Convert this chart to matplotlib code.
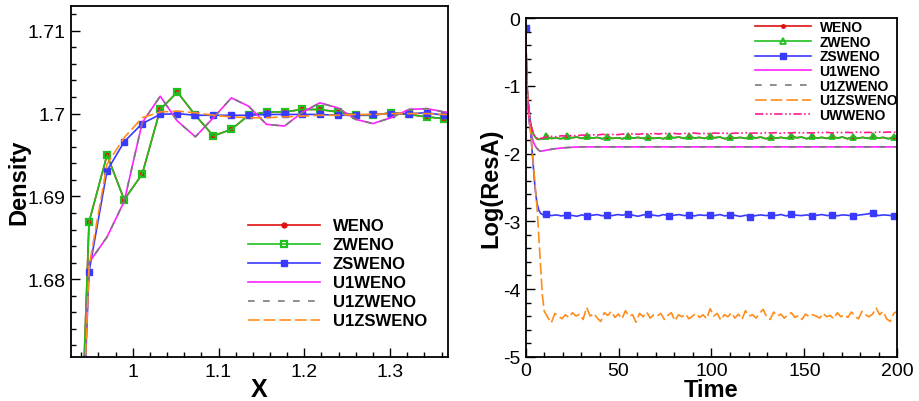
import numpy as np
import matplotlib
matplotlib.use('Agg')
import matplotlib.pyplot as plt
from matplotlib.ticker import MultipleLocator, FuncFormatter

plt.rcParams['font.family'] = ['Liberation Sans', 'DejaVu Sans']
plt.rcParams['axes.unicode_minus'] = False

# ---------------- Left panel data (Density vs X) ----------------
x_pts = [0.928, 0.949, 0.970, 0.990, 1.011, 1.032, 1.052, 1.073, 1.094, 1.115, 1.135,
         1.156, 1.177, 1.197, 1.218, 1.239, 1.260, 1.280, 1.301, 1.322, 1.343, 1.363, 1.384]
rho_weno = [1.625, 1.6869, 1.6950, 1.6896, 1.6927, 1.7005, 1.7026, 1.6998, 1.6973, 1.6981, 1.6998,
            1.7002, 1.7002, 1.7005, 1.7005, 1.7002, 1.6998, 1.6998, 1.7001, 1.6999, 1.6996, 1.6994, 1.6993]
rho_zweno = [1.625, 1.6869, 1.6950, 1.6896, 1.6927, 1.7005, 1.7026, 1.6998, 1.6973, 1.6981, 1.6998,
             1.7002, 1.7002, 1.7005, 1.7005, 1.7002, 1.6998, 1.6998, 1.7001, 1.6999, 1.6996, 1.6994, 1.6993]
rho_zsweno = [1.625, 1.6809, 1.6931, 1.6966, 1.6988, 1.6999, 1.7000, 1.6998, 1.6998, 1.6998, 1.6998,
              1.6999, 1.6999, 1.6999, 1.6999, 1.6998, 1.6998, 1.6999, 1.7000, 1.7000, 1.7001, 1.6998, 1.6999]
rho_u1weno = [1.625, 1.6820, 1.6851, 1.6894, 1.6989, 1.7021, 1.6991, 1.6972, 1.6995, 1.7019, 1.7009,
              1.6987, 1.6985, 1.7001, 1.7013, 1.7007, 1.6993, 1.6988, 1.6995, 1.7005, 1.7006, 1.7002, 1.7000]
rho_u1zweno = [1.625, 1.6820, 1.6851, 1.6894, 1.6989, 1.7021, 1.6991, 1.6972, 1.6995, 1.7019, 1.7009,
               1.6987, 1.6985, 1.7001, 1.7013, 1.7007, 1.6993, 1.6988, 1.6995, 1.7005, 1.7006, 1.7002, 1.7000]
rho_u1zsweno = [1.625, 1.6815, 1.6939, 1.6971, 1.6995, 1.7002, 1.7003, 1.7001, 1.6998, 1.6996, 1.6995,
                1.6995, 1.6996, 1.6997, 1.6998, 1.6998, 1.6999, 1.6999, 1.7000, 1.7000, 1.7000, 1.6999, 1.6999]

# ---------------- Right panel data (Log(ResA) vs Time) ----------------
t_early = [0, 0.5, 1, 2, 3, 4, 5, 6, 7, 8, 9, 10]
t_plateau = list(np.round(11 + 2.75 * np.arange(69), 2)) + [200]
time = t_early + t_plateau

res_zweno = [-0.15, -0.85, -1.15, -1.45, -1.60, -1.70, -1.75, -1.78, -1.79, -1.785, -1.78, -1.775,
             -1.745, -1.775, -1.77, -1.78, -1.74, -1.765, -1.755, -1.775, -1.745, -1.77, -1.76, -1.78,
             -1.75, -1.775, -1.765, -1.78, -1.745, -1.77, -1.76, -1.775, -1.75, -1.775, -1.765, -1.78,
             -1.745, -1.765, -1.755, -1.775, -1.74, -1.77, -1.76, -1.775, -1.745, -1.765, -1.755, -1.78,
             -1.75, -1.77, -1.76, -1.775, -1.745, -1.77, -1.755, -1.78, -1.75, -1.77, -1.76, -1.775,
             -1.74, -1.765, -1.755, -1.78, -1.745, -1.77, -1.76, -1.775, -1.745, -1.77, -1.755, -1.78,
             -1.75, -1.77, -1.76, -1.775, -1.745, -1.77, -1.76, -1.78, -1.75, -1.775]
res_weno = list(res_zweno)
res_zsweno = [-0.15, -0.80, -1.15, -1.40, -1.80, -2.15, -2.50, -2.72, -2.83, -2.88, -2.90, -2.905,
              -2.892, -2.915, -2.905, -2.92, -2.906, -2.912, -2.925, -2.905, -2.921, -2.91, -2.90, -2.918,
              -2.906, -2.915, -2.90, -2.91, -2.886, -2.91, -2.925, -2.905, -2.896, -2.91, -2.92, -2.90,
              -2.921, -2.91, -2.90, -2.915, -2.906, -2.92, -2.905, -2.912, -2.906, -2.915, -2.90, -2.92,
              -2.906, -2.912, -2.928, -2.91, -2.935, -2.915, -2.905, -2.915, -2.906, -2.912, -2.90, -2.92,
              -2.892, -2.91, -2.915, -2.905, -2.921, -2.91, -2.90, -2.915, -2.906, -2.918, -2.905, -2.91,
              -2.921, -2.91, -2.90, -2.89, -2.872, -2.915, -2.905, -2.91, -2.921, -2.915]
res_uwweno = [-0.15, -0.85, -1.15, -1.45, -1.60, -1.70, -1.75, -1.77, -1.78, -1.775, -1.77, -1.76,
              -1.755, -1.745, -1.75, -1.735, -1.74, -1.73, -1.735, -1.725, -1.73, -1.72, -1.725, -1.715,
              -1.72, -1.715, -1.72, -1.71, -1.715, -1.705, -1.715, -1.705, -1.71, -1.70, -1.71, -1.70,
              -1.705, -1.70, -1.71, -1.70, -1.705, -1.695, -1.705, -1.70, -1.705, -1.695, -1.70, -1.695,
              -1.705, -1.695, -1.70, -1.69, -1.70, -1.695, -1.70, -1.69, -1.695, -1.69, -1.70, -1.69,
              -1.695, -1.685, -1.695, -1.69, -1.695, -1.685, -1.69, -1.685, -1.695, -1.685, -1.69, -1.685,
              -1.69, -1.68, -1.69, -1.685, -1.69, -1.68, -1.685, -1.68, -1.685, -1.68]

t_u1 = [0, 0.5, 1, 2, 3, 4, 5, 6, 7, 8, 10, 15, 20, 25, 30, 40, 60, 100, 150, 200]
res_u1weno = [-0.15, -0.90, -1.25, -1.55, -1.72, -1.82, -1.88, -1.92, -1.95, -1.965, -1.955, -1.93,
              -1.915, -1.905, -1.90, -1.90, -1.90, -1.90, -1.90, -1.90]
res_u1zweno = [-0.15, -0.90, -1.25, -1.55, -1.72, -1.82, -1.88, -1.92, -1.95, -1.965, -1.955, -1.93,
               -1.915, -1.905, -1.90, -1.90, -1.90, -1.90, -1.90, -1.90]

t_u1zs_early = [0, 0.5, 1, 2, 3, 4, 5, 6, 7, 8, 9]
res_u1zs_early = [-0.15, -0.80, -1.15, -1.45, -1.80, -2.10, -2.45, -2.75, -3.20, -3.65, -4.10]
res_u1zs_plateau = [-4.33, -4.42, -4.50, -4.36, -4.40, -4.44, -4.38, -4.42, -4.35, -4.40,
                    -4.37, -4.45, -4.27, -4.40, -4.36, -4.43, -4.48, -4.35, -4.39, -4.33,
                    -4.42, -4.37, -4.44, -4.32, -4.40, -4.38, -4.49, -4.36, -4.41, -4.34,
                    -4.43, -4.38, -4.40, -4.36, -4.45, -4.39, -4.35, -4.47, -4.38, -4.41,
                    -4.37, -4.44, -4.40, -4.36, -4.42, -4.38, -4.44, -4.29, -4.40, -4.36,
                    -4.46, -4.38, -4.41, -4.35, -4.43, -4.37, -4.45, -4.32, -4.40, -4.38,
                    -4.43, -4.36, -4.30, -4.41, -4.45, -4.34, -4.40, -4.37, -4.43, -4.38,
                    -4.35, -4.42, -4.39, -4.45, -4.37, -4.41, -4.38, -4.40, -4.43, -4.36,
                    -4.41, -4.39, -4.44, -4.35, -4.41, -4.38, -4.42, -4.34, -4.40, -4.44,
                    -4.33, -4.38, -4.41, -4.37, -4.28, -4.38, -4.33, -4.44, -4.48, -4.36, -4.33]
t_u1zs = t_u1zs_early + list(np.linspace(10, 200, len(res_u1zs_plateau)))
res_u1zsweno = res_u1zs_early + res_u1zs_plateau

# ---------------- Styles ----------------
C_RED = '#e01010'
C_GREEN = '#20c020'
C_BLUE = '#3a3aff'
C_MAG = '#ff20ff'
C_GRAY = '#7a7a7a'
C_ORANGE = '#ff8c1a'
C_PINK = '#ff1a8c'
LW = 1.2

fig = plt.figure(figsize=(9.2, 4.02), dpi=100)
ax1 = fig.add_axes([0.0772, 0.1095, 0.4098, 0.8731])
ax2 = fig.add_axes([0.5714, 0.1102, 0.4039, 0.8418])

# Left panel
ax1.plot(x_pts, rho_weno, color=C_RED, lw=LW, marker='o', ms=3.5, label='WENO')
ax1.plot(x_pts, rho_zweno, color=C_GREEN, lw=LW, marker='s', ms=5, mfc='none', mew=1.6, label='ZWENO')
ax1.plot(x_pts, rho_zsweno, color=C_BLUE, lw=LW, marker='s', ms=4, label='ZSWENO')
ax1.plot(x_pts, rho_u1weno, color=C_MAG, lw=LW, label='U1WENO')
ax1.plot(x_pts, rho_u1zweno, color=C_GRAY, lw=LW, dashes=(4, 5), label='U1ZWENO')
ax1.plot(x_pts, rho_u1zsweno, color=C_ORANGE, lw=LW, dashes=(7, 2.4), label='U1ZSWENO')

ax1.set_xlim(0.928, 1.3676)
ax1.set_ylim(1.6706, 1.713)
ax1.xaxis.set_major_locator(MultipleLocator(0.1))
ax1.xaxis.set_minor_locator(MultipleLocator(0.02))
ax1.yaxis.set_major_locator(MultipleLocator(0.01))
ax1.yaxis.set_minor_locator(MultipleLocator(0.002))
fmt = FuncFormatter(lambda v, p: '%g' % round(v, 4))
ax1.xaxis.set_major_formatter(fmt)
ax1.yaxis.set_major_formatter(fmt)
ax1.set_xlabel('X', fontsize=18, fontweight='bold', labelpad=-2)
ax1.set_ylabel('Density', fontsize=17, fontweight='bold', labelpad=-2)
leg1 = ax1.legend(loc='upper left', bbox_to_anchor=(0.469, 0.395), frameon=False,
                  prop={'weight': 'bold', 'size': 12}, handlelength=4.3, handletextpad=0.8,
                  labelspacing=0.24, borderpad=0, borderaxespad=0)

# Right panel
mk = [0] + [12 + 4 * k for k in range(18)]
ax2.plot(time, res_weno, color=C_RED, lw=LW, marker='o', ms=2.5, markevery=mk, label='WENO')
ax2.plot(time, res_zweno, color=C_GREEN, lw=LW, marker='^', ms=5, mfc='none', mew=1.3, markevery=mk, label='ZWENO')
ax2.plot(time, res_zsweno, color=C_BLUE, lw=LW, marker='s', ms=4.5, markevery=mk, label='ZSWENO')
ax2.plot(t_u1, res_u1weno, color=C_MAG, lw=LW, label='U1WENO')
ax2.plot(t_u1, res_u1zweno, color=C_GRAY, lw=LW, dashes=(4, 5), label='U1ZWENO')
ax2.plot(t_u1zs, res_u1zsweno, color=C_ORANGE, lw=LW, dashes=(7, 2.4), label='U1ZSWENO')
ax2.plot(time, res_uwweno, color=C_PINK, lw=LW, dashes=(5, 1.5, 1, 1.5, 1, 1.5), label='UWWENO')

ax2.set_xlim(0, 200)
ax2.set_ylim(-5, 0)
ax2.xaxis.set_major_locator(MultipleLocator(50))
ax2.xaxis.set_minor_locator(MultipleLocator(10))
ax2.yaxis.set_major_locator(MultipleLocator(1))
ax2.yaxis.set_minor_locator(MultipleLocator(0.2))
ax2.xaxis.set_major_formatter(fmt)
ax2.yaxis.set_major_formatter(fmt)
ax2.set_xlabel('Time', fontsize=17, fontweight='bold', labelpad=-1)
ax2.set_ylabel('Log(ResA)', fontsize=17, fontweight='bold', labelpad=0)
leg2 = ax2.legend(loc='upper left', bbox_to_anchor=(0.617, 0.995), frameon=False,
                  prop={'weight': 'bold', 'size': 10}, handlelength=4.0, handletextpad=0.65,
                  labelspacing=0.05, borderpad=0, borderaxespad=0)

for ax in (ax1, ax2):
    for s in ax.spines.values():
        s.set_linewidth(1.3)
    ax.tick_params(which='both', direction='in', top=False, right=False, width=1.0,
                   labelsize=14, pad=4)
    ax.tick_params(which='major', length=6.5)
    ax.tick_params(which='minor', length=3.3)

fig.savefig('out.png', dpi=100)
